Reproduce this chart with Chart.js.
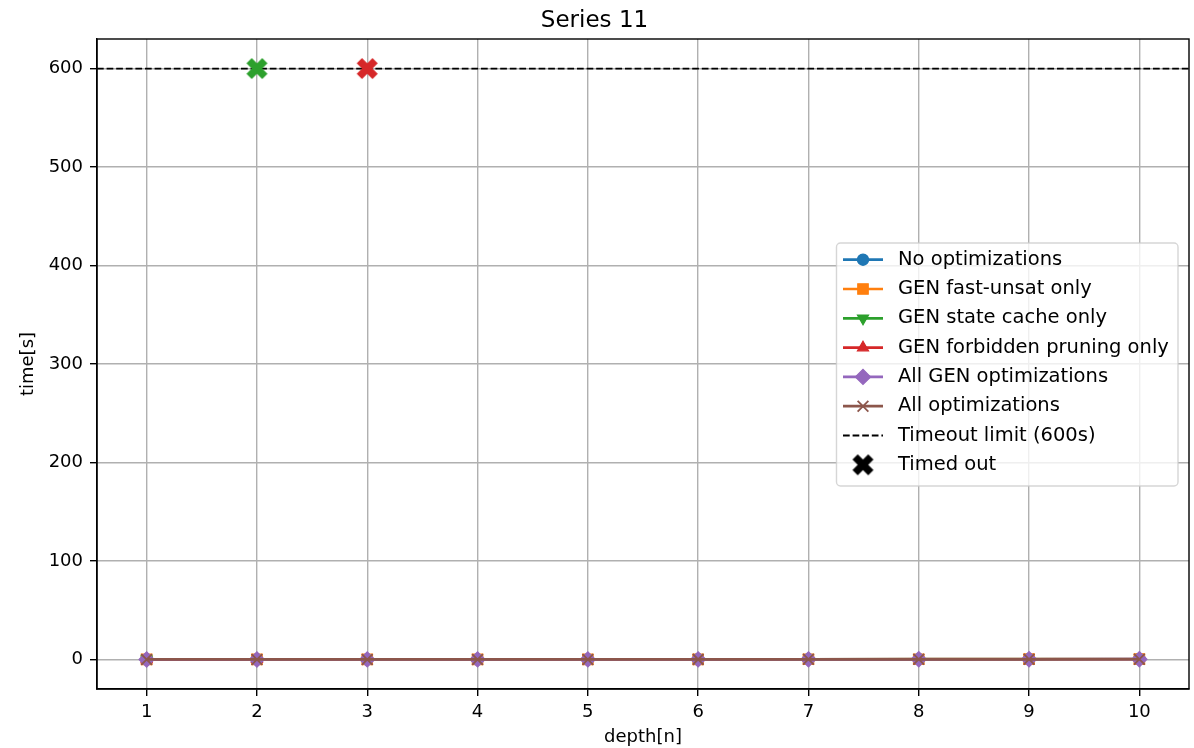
<!DOCTYPE html>
<html>
<head>
<meta charset="utf-8">
<title>Series 11</title>
<script src="https://cdn.jsdelivr.net/npm/chart.js@4/dist/chart.umd.min.js"></script>
<style>
    html, body { margin: 0; padding: 0; background: #fff; }
    #wrap { width: 1194px; height: 748px; }
</style>
</head>
<body>
<div id="wrap"><canvas id="chart" width="1194" height="748"></canvas></div>
<script>
// Data (all runs finish well under a second)
const depths = [1, 2, 3, 4, 5, 6, 7, 8, 9, 10];
const noOptimizations = [0.02, 0.03, 0.05, 0.08, 0.12, 0.17, 0.23, 0.3, 0.38, 0.47];
const fastUnsatOnly = [0.02, 0.03, 0.04, 0.07, 0.1, 0.14, 0.19, 0.25, 0.32, 0.4];
const stateCacheOnly = [0.05];
const forbiddenPruningOnly = [0.03, 0.2];
const allGenOptimizations = [0.01, 0.02, 0.03, 0.05, 0.07, 0.1, 0.13, 0.17, 0.21, 0.26];
const allOptimizations = [0.01, 0.02, 0.03, 0.04, 0.06, 0.08, 0.11, 0.14, 0.18, 0.22];

const timeoutLimit = 600;
const timedOutDepths = [2, 3];
const timedOutSeries = [2, 3]; // index into series below

const xTicks = depths;
const yTicks = [0, 100, 200, 300, 400, 500, 600];
const xMin = 0.55, xMax = 10.45;
const yMin = -30, yMax = 630;

const FONT = "'DejaVu Sans', sans-serif";
const LW = 2.7;

const series = [
    { label: 'No optimizations', data: noOptimizations, color: '#1f77b4', style: 'circle', radius: 5.6, rot: 0 },
    { label: 'GEN fast-unsat only', data: fastUnsatOnly, color: '#ff7f0e', style: 'rect', radius: 7.4, rot: 0 },
    { label: 'GEN state cache only', data: stateCacheOnly, color: '#2ca02c', style: 'triangle', radius: 6.4, rot: 180 },
    { label: 'GEN forbidden pruning only', data: forbiddenPruningOnly, color: '#d62728', style: 'triangle', radius: 6.4, rot: 0 },
    { label: 'All GEN optimizations', data: allGenOptimizations, color: '#9467bd', style: 'rectRot', radius: 7.6, rot: 0 },
    { label: 'All optimizations', data: allOptimizations, color: '#8c564b', style: 'crossRot', radius: 7.6, rot: 0 }
];

// filled "X" marker like matplotlib's 'X'
function filledX(color, size) {
    const c = document.createElement('canvas');
    c.width = c.height = size;
    const g = c.getContext('2d');
    const pts = [[-1, -3], [1, -3], [1, -1], [3, -1], [3, 1], [1, 1], [1, 3], [-1, 3], [-1, 1], [-3, 1], [-3, -1], [-1, -1]];
    const m = (size / 2 - 1) / 0.4714 / 6;
    g.beginPath();
    pts.forEach(([px, py], i) => {
        const x = size / 2 + (px - py) / Math.SQRT2 * m;
        const y = size / 2 + (px + py) / Math.SQRT2 * m;
        if (i === 0) g.moveTo(x, y); else g.lineTo(x, y);
    });
    g.closePath();
    g.fillStyle = color;
    g.fill();
    return c;
}

const datasets = series.map((s, i) => ({
    label: s.label,
    data: s.data.map((v, j) => ({ x: depths[j], y: v })),
    borderColor: s.color,
    backgroundColor: s.color,
    borderWidth: LW,
    pointStyle: s.style,
    pointRadius: s.radius,
    pointRotation: s.rot,
    pointBorderWidth: s.style === 'crossRot' ? 1.8 : 1.2,
    pointBackgroundColor: s.color,
    pointBorderColor: s.color,
    tension: 0,
    order: 7 - i
}));

datasets.push({
    label: 'Timeout limit (600s)',
    data: [{ x: xMin, y: timeoutLimit }, { x: xMax, y: timeoutLimit }],
    borderColor: '#000',
    borderWidth: 1.8,
    borderDash: [6.7, 2.9],
    pointRadius: 0,
    order: 1
});

datasets.push({
    label: 'Timed out',
    type: 'scatter',
    data: timedOutDepths.map(d => ({ x: d, y: timeoutLimit })),
    pointStyle: timedOutSeries.map(i => filledX(series[i].color, 23)),
    pointRadius: 11,
    showLine: false,
    order: 0
});

// box around the plot and the legend inside it
const framePlugin = {
    id: 'frame',
    afterDraw(chart) {
        const { ctx, chartArea: a } = chart;
        ctx.save();
        ctx.strokeStyle = '#000';
        ctx.lineWidth = 1.4;
        ctx.strokeRect(a.left, a.top, a.right - a.left, a.bottom - a.top);

        // legend
        const bx = 836.5, by = 243, bw = 341.5, bh = 243, r = 4;
        ctx.beginPath();
        ctx.roundRect(bx, by, bw, bh, r);
        ctx.fillStyle = 'rgba(255,255,255,0.8)';
        ctx.fill();
        ctx.strokeStyle = 'rgba(204,204,204,0.8)';
        ctx.lineWidth = 1.4;
        ctx.stroke();

        ctx.font = '19.5px ' + FONT;
        ctx.textBaseline = 'middle';
        ctx.textAlign = 'left';
        const rowY = i => 259.7 + i * 29.3;
        const hx0 = 843, hx1 = 883, hxm = 863, tx = 898;
        series.forEach((s, i) => {
            const y = rowY(i);
            ctx.beginPath();
            ctx.moveTo(hx0, y); ctx.lineTo(hx1, y);
            ctx.strokeStyle = s.color; ctx.lineWidth = LW; ctx.setLineDash([]);
            ctx.stroke();
            ctx.fillStyle = s.color;
            ctx.lineWidth = s.style === 'crossRot' ? 1.8 : 1.2;
            Chart.helpers.drawPoint(ctx, { pointStyle: s.style, radius: s.radius, rotation: s.rot, borderWidth: ctx.lineWidth }, hxm, y);
            ctx.fillStyle = '#000';
            ctx.fillText(s.label, tx, y);
        });
        let y = rowY(6);
        ctx.beginPath();
        ctx.moveTo(hx0, y); ctx.lineTo(hx1, y);
        ctx.strokeStyle = '#000'; ctx.lineWidth = 1.8; ctx.setLineDash([6.7, 2.9]);
        ctx.stroke();
        ctx.setLineDash([]);
        ctx.fillStyle = '#000';
        ctx.fillText('Timeout limit (600s)', tx, y);
        y = rowY(7);
        const xImg = filledX('#000', 23);
        ctx.drawImage(xImg, hxm - 11.5, y - 11.5);
        ctx.fillText('Timed out', tx, y);
        ctx.restore();
    }
};

new Chart(document.getElementById('chart').getContext('2d'), {
    type: 'line',
    data: { datasets: datasets },
    options: {
        responsive: false,
        animation: false,
        events: [],
        layout: { autoPadding: false, padding: { left: 0, right: 5, top: 0, bottom: 0 } },
        plugins: {
            legend: { display: false },
            tooltip: { enabled: false },
            title: {
                display: true,
                text: 'Series 11',
                color: '#000',
                font: { family: FONT, size: 23, weight: 'normal' },
                padding: { top: 7.2, bottom: 4.2 }
            }
        },
        scales: {
            x: {
                type: 'linear',
                min: xMin,
                max: xMax,
                afterBuildTicks: s => { s.ticks = xTicks.map(v => ({ value: v })); },
                afterFit: s => { s.height = 59; s.paddingLeft = 0; s.paddingRight = 0; },
                grid: { color: '#b0b0b0', lineWidth: 1.4, tickColor: '#000', tickLength: 7, tickWidth: 1.4 },
                border: { color: '#000', width: 1.4 },
                ticks: { color: '#000', font: { family: FONT, size: 18 }, padding: 6, maxRotation: 0, autoSkip: false, callback: v => String(v) },
                title: { display: true, text: 'depth[n]', color: '#000', font: { family: FONT, size: 18 }, padding: { top: 0, bottom: 0 } }
            },
            y: {
                type: 'linear',
                min: yMin,
                max: yMax,
                afterBuildTicks: s => { s.ticks = yTicks.map(v => ({ value: v })); },
                afterFit: s => { s.width = 97; s.paddingTop = 0; s.paddingBottom = 0; },
                grid: { color: '#b0b0b0', lineWidth: 1.4, tickColor: '#000', tickLength: 7, tickWidth: 1.4 },
                border: { color: '#000', width: 1.4 },
                ticks: { color: '#000', font: { family: FONT, size: 18 }, padding: 7, callback: v => String(v) },
                title: { display: true, text: 'time[s]', color: '#000', font: { family: FONT, size: 18 }, padding: { top: 18, bottom: 0 } }
            }
        }
    },
    plugins: [framePlugin]
});
</script>
</body>
</html>
